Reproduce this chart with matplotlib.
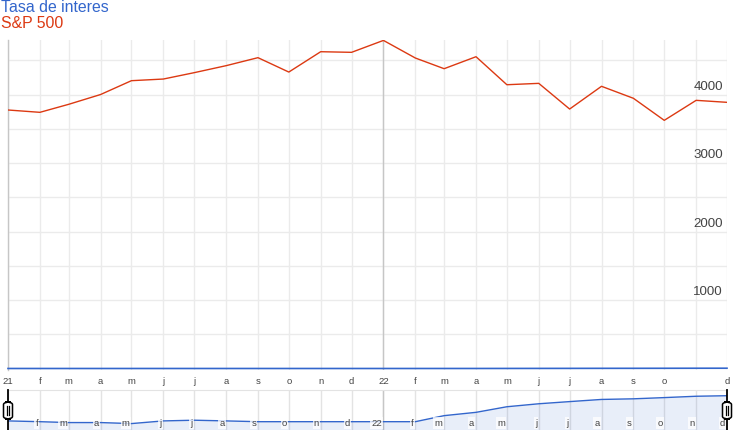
import matplotlib
matplotlib.use('Agg')
import matplotlib.pyplot as plt
from matplotlib.patches import FancyBboxPatch
from matplotlib.lines import Line2D
import pandas as pd

# ---------------- data ----------------
months = pd.date_range('2021-01-01', '2022-12-01', freq='MS')
sp500 = [3774, 3740, 3857, 4000, 4202, 4226, 4319, 4421, 4538, 4328, 4625, 4616,
         4790, 4533, 4377, 4552, 4143, 4163, 3788, 4120, 3945, 3623, 3915, 3886]
rate = [0.09, 0.08, 0.07, 0.07, 0.06, 0.09, 0.10, 0.09, 0.08, 0.08, 0.08, 0.08,
        0.08, 0.08, 0.20, 0.33, 0.77, 1.21, 1.68, 2.33, 2.56, 3.08, 3.78, 4.10]
main_labels = ['21', 'f', 'm', 'a', 'm', 'j', 'j', 'a', 's', 'o', 'n', 'd',
               '22', 'f', 'm', 'a', 'm', 'j', 'j', 'a', 's', 'o', '', 'd']
nav_labels = ['', 'f', 'm', 'a', 'm', 'j', 'j', 'a', 's', 'o', 'n', 'd',
              '22', 'f', 'm', 'a', 'm', 'j', 'j', 'a', 's', 'o', 'n', 'd']
ytick_labels = [1000, 2000, 3000, 4000]
grid_vals = [500, 1000, 1500, 2000, 2500, 3000, 3500, 4000, 4500]
series_names = ['Tasa de interes', 'S&P 500']

BLUE = '#3366cc'
RED = '#dc3912'
GRID = '#ebebeb'
DARK = '#c6c6c6'
TXT = '#444444'

plt.rcParams['font.family'] = ['Liberation Sans', 'DejaVu Sans']

W, H = 735, 431
fig = plt.figure(figsize=(W / 100, H / 100), dpi=100)


def rect(x0, y0, x1, y1):
    return [x0 / W, 1 - y1 / H, (x1 - x0) / W, (y1 - y0) / H]


# ---------------- main chart ----------------
ax = fig.add_axes(rect(8, 41, 727, 371))
ax.set_xlim(months[0], months[-1])
ax.set_ylim(-22, 4796)
ax.set_xticks(months)
ax.set_xticklabels(main_labels)
ax.set_yticks(grid_vals)
ax.set_yticklabels([])
ax.tick_params(axis='both', length=0)
ax.tick_params(axis='x', pad=4, labelsize=6.8, labelcolor=TXT)
ax.grid(True, color=GRID, lw=1)
ax.set_axisbelow(True)
for s in ['top', 'right', 'bottom']:
    ax.spines[s].set_visible(False)
ax.spines['left'].set_color(DARK)
ax.spines['left'].set_linewidth(1)
ax.axvline(months[12], color=DARK, lw=1, zorder=1)

ax.plot(months, sp500, color=RED, lw=1.0, zorder=3)
ax.plot(months, rate, color=BLUE, lw=1.2, zorder=3, clip_on=False)

for v in ytick_labels:
    ax.annotate(str(v), xy=(1, v), xycoords=('axes fraction', 'data'),
                xytext=(-3, 4.3), textcoords='offset points',
                ha='right', va='baseline', fontsize=9.6, color=TXT)

# legend text
fig.text(1 / W, 1 - 11.7 / H, series_names[0], color=BLUE, fontsize=11.4,
         va='baseline', ha='left')
fig.text(1 / W, 1 - 28 / H, series_names[1], color=RED, fontsize=11.4,
         va='baseline', ha='left')

# ---------------- navigator ----------------
nav = fig.add_axes(rect(8, 391, 727, 431))
nav.set_yscale('log')
lo, hi = 0.0227, 9.75
nav.set_ylim(lo, hi)
nav.set_xlim(months[0], months[-1])
nav.set_xticks(months)
nav.set_xticklabels([])
nav.set_yticks([])
nav.minorticks_off()
nav.tick_params(axis='both', length=0, which='both')
nav.grid(True, axis='x', color='#e3e3e3', lw=1)
nav.set_axisbelow(True)
for s in ['left', 'right', 'bottom']:
    nav.spines[s].set_visible(False)
nav.spines['top'].set_color('#e3e3e3')
nav.axvline(months[12], color=DARK, lw=1, zorder=1)

nav.fill_between(months, rate, lo, color=BLUE, alpha=0.11, lw=0, zorder=2)
nav.plot(months, rate, color=BLUE, lw=1.0, zorder=3)

for m, lbl in zip(months, nav_labels):
    if lbl:
        nav.annotate(lbl, xy=(m, 0.175), xycoords=('data', 'axes fraction'),
                     xytext=(-1.2, 0), textcoords='offset points',
                     ha='right', va='center', fontsize=6.8, color=TXT, zorder=4,
                     bbox=dict(boxstyle='square,pad=0.12', fc='white',
                               ec='none', alpha=0.75))

# handles
for xp in (8, 727):
    fig.add_artist(Line2D([xp / W, xp / W], [1 - 391 / H, 0], color='black',
                          lw=1.3, transform=fig.transFigure))
    fig.add_artist(FancyBboxPatch(((xp - 4.5) / W, 1 - 420 / H), 9 / W, 17 / H,
                                  boxstyle='round,pad=0,rounding_size=0.01',
                                  fc='white', ec='black', lw=1.1,
                                  transform=fig.transFigure, zorder=10,
                                  mutation_aspect=H / W))
    for dx in (-1.3, 1.3):
        fig.add_artist(Line2D([(xp + dx) / W, (xp + dx) / W],
                              [1 - 407 / H, 1 - 416 / H], color='black', lw=0.9,
                              transform=fig.transFigure, zorder=11))

fig.savefig('out.png', dpi=100)
